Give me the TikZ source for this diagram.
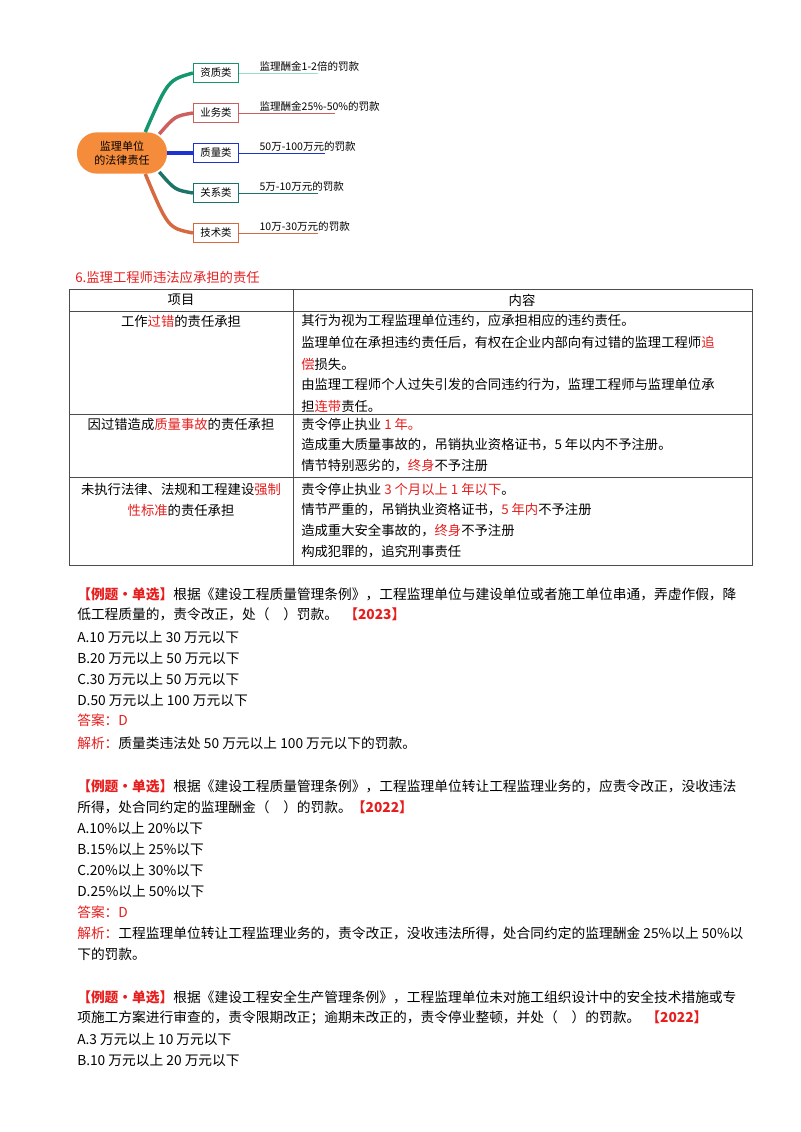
\documentclass[tikz,border=0pt]{standalone}
\usepackage{fontspec}
\setmainfont{Noto Sans CJK SC}
\definecolor{rd}{RGB}{230,30,30}
\definecolor{c1}{RGB}{20,150,110}
\definecolor{c1l}{RGB}{150,225,200}
\definecolor{c2}{RGB}{205,95,95}
\definecolor{c3}{RGB}{30,50,210}
\definecolor{c4}{RGB}{30,115,105}
\definecolor{c5}{RGB}{215,105,65}
\definecolor{ctr}{RGB}{245,140,60}
\begin{document}
\begin{tikzpicture}[x=0.75pt,y=-0.75pt,
  body/.style={anchor=west,inner sep=0pt,font=\fontsize{10.3}{12}\selectfont},
  tb/.style={anchor=west,inner sep=0pt,font=\fontsize{10}{12}\selectfont},
  tbc/.style={anchor=center,inner sep=0pt,font=\fontsize{10}{12}\selectfont},
  box/.style={draw=#1,fill=white,line width=0.6pt,minimum width=34pt,minimum height=14.25pt,inner sep=0pt,font=\fontsize{7.8}{8}\selectfont},
  lab/.style={anchor=south west,inner sep=1pt,font=\fontsize{7.9}{9}\selectfont},
  br/.style={line width=2.6pt,draw=#1},
  ul/.style={line width=0.6pt,draw=#1},
  tl/.style={line width=0.6pt,draw=gray!60!black}]
\useasboundingbox (0,0) rectangle (800,1132);
% mind map
\node[fill=ctr,rounded corners=15pt,minimum width=67.5pt,minimum height=31pt,align=center,inner sep=0pt,font=\fontsize{8.3}{10.5}\selectfont] (ctr) at (122,153) {监理单位\\的法律责任};
\node[box=c1] (b1) at (216,73) {资质类};
\node[box=c2] (b2) at (216,113) {业务类};
\node[box=c3] (b3) at (216,153) {质量类};
\node[box=c4] (b4) at (216,193) {关系类};
\node[box=c5] (b5) at (216,233) {技术类};
\draw[br=c1] (ctr.north east) ++(-22,0) .. controls (168,80) .. (b1.west);
\draw[br=c2] (ctr.north east) ++(-8,2) .. controls (175,116) .. (b2.west);
\draw[br=c3] (ctr.east) -- (b3.west);
\draw[br=c4] (ctr.south east) ++(-8,-2) .. controls (175,190) .. (b4.west);
\draw[br=c5] (ctr.south east) ++(-22,0) .. controls (168,228) .. (b5.west);
\node[lab] (l1) at (258,73) {监理酬金1-2倍的罚款};
\node[lab] (l2) at (258,113) {监理酬金25\%-50\%的罚款};
\node[lab] (l3) at (258,153) {50万-100万元的罚款};
\node[lab] (l4) at (258,193) {5万-10万元的罚款};
\node[lab] (l5) at (258,233) {10万-30万元的罚款};
\coordinate (e1) at (318,73); \coordinate (e2) at (335,113); \coordinate (e3) at (325,153);
\coordinate (e4) at (318,193); \coordinate (e5) at (318,233);
\draw[ul=c1l] (b1.east) -- (e1);
\draw[ul=c2] (b2.east) -- (e2);
\draw[ul=c3] (b3.east) -- (e3);
\draw[ul=c4] (b4.east) -- (e4);
\draw[ul=c5] (b5.east) -- (e5);
% table
\node[tb,text=rd] (ttl) at (75,277) {6.监理工程师违法应承担的责任};
\draw[tl] (69,289) rectangle (752,565);
\draw[tl] (293,289) -- (293,565);
\draw[tl] (69,311) -- (752,311);
\draw[tl] (69,414) -- (752,414);
\draw[tl] (69,477) -- (752,477);
\node[tbc] (h1) at (181,300) {项目};
\node[tbc] (h2) at (522,300) {内容};
\node[tbc] (r1) at (181,321) {工作\textcolor{rd}{过错}的责任承担};
\node[tb] (r1a) at (301,321) {其行为视为工程监理单位违约，应承担相应的违约责任。};
\node[tb] (r1b) at (301,343) {监理单位在承担违约责任后，有权在企业内部向有过错的监理工程师\textcolor{rd}{追}};
\node[tb] (r1c) at (301,364) {\textcolor{rd}{偿}损失。};
\node[tb] (r1d) at (301,385) {由监理工程师个人过失引发的合同违约行为，监理工程师与监理单位承};
\node[tb] (r1e) at (301,406) {担\textcolor{rd}{连带}责任。};
\node[tbc] (r2) at (181,424) {因过错造成\textcolor{rd}{质量事故}的责任承担};
\node[tb] (r2a) at (301,424) {责令停止执业 \textcolor{rd}{1 年。}};
\node[tb] (r2b) at (301,445) {造成重大质量事故的，吊销执业资格证书，5 年以内不予注册。};
\node[tb] (r2c) at (301,466) {情节特别恶劣的，\textcolor{rd}{终身}不予注册};
\node[tbc] (r3) at (181,489) {未执行法律、法规和工程建设\textcolor{rd}{强制}};
\node[tbc] (r3b) at (181,510) {\textcolor{rd}{性标准}的责任承担};
\node[tb] (r3c) at (301,489) {责令停止执业 \textcolor{rd}{3 个月以上 1 年以下}。};
\node[tb] (r3d) at (301,510) {情节严重的，吊销执业资格证书，\textcolor{rd}{5 年内}不予注册};
\node[tb] (r3e) at (301,531) {造成重大安全事故的，\textcolor{rd}{终身}不予注册};
\node[tb] (r3f) at (301,552) {构成犯罪的，追究刑事责任};
% question 1
\node[body] (q1a) at (77,594) {\textcolor{rd}{\bfseries 【例题•单选】}根据《建设工程质量管理条例》，工程监理单位与建设单位或者施工单位串通，弄虚作假，降};
\node[body] (q1b) at (77,614) {低工程质量的，责令改正，处（\quad）罚款。\ \ \textcolor{rd}{\bfseries 【2023】}};
\node[body] (q1c) at (77,637) {A.10 万元以上 30 万元以下};
\node[body] (q1d) at (77,658) {B.20 万元以上 50 万元以下};
\node[body] (q1e) at (77,679) {C.30 万元以上 50 万元以下};
\node[body] (q1f) at (77,700) {D.50 万元以上 100 万元以下};
\node[body,text=rd] (q1g) at (77,720) {答案：D};
\node[body] (q1h) at (77,743) {\textcolor{rd}{解析：}质量类违法处 50 万元以上 100 万元以下的罚款。};
% question 2
\node[body] (q2a) at (77,786) {\textcolor{rd}{\bfseries 【例题•单选】}根据《建设工程质量管理条例》，工程监理单位转让工程监理业务的，应责令改正，没收违法};
\node[body] (q2b) at (77,807) {所得，处合同约定的监理酬金（\quad）的罚款。\textcolor{rd}{\bfseries 【2022】}};
\node[body] (q2c) at (77,828) {A.10\%以上 20\%以下};
\node[body] (q2d) at (77,849) {B.15\%以上 25\%以下};
\node[body] (q2e) at (77,870) {C.20\%以上 30\%以下};
\node[body] (q2f) at (77,891) {D.25\%以上 50\%以下};
\node[body,text=rd] (q2g) at (77,912) {答案：D};
\node[body] (q2h) at (77,933) {\textcolor{rd}{解析：}工程监理单位转让工程监理业务的，责令改正，没收违法所得，处合同约定的监理酬金 25\%以上 50\%以};
\node[body] (q2i) at (77,954) {下的罚款。};
% question 3
\node[body] (q3a) at (77,997) {\textcolor{rd}{\bfseries 【例题•单选】}根据《建设工程安全生产管理条例》，工程监理单位未对施工组织设计中的安全技术措施或专};
\node[body] (q3b) at (77,1018) {项施工方案进行审查的，责令限期改正；逾期未改正的，责令停业整顿，并处（\quad）的罚款。\ \ \textcolor{rd}{\bfseries 【2022】}};
\node[body] (q3c) at (77,1039) {A.3 万元以上 10 万元以下};
\node[body] (q3d) at (77,1060) {B.10 万元以上 20 万元以下};
\end{tikzpicture}
\end{document}
